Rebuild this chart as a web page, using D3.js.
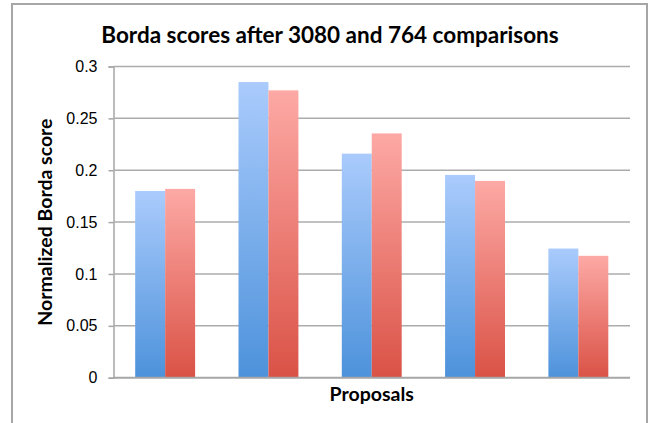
<!DOCTYPE html>
<html>
<head>
<meta charset="utf-8">
<script src="https://cdn.jsdelivr.net/npm/d3@7"></script>
<style>
  body { margin: 0; background: #fff; }
  svg { display: block; font-family: Lato, "Open Sans", sans-serif; }
  .tick text { font-size: 16px; fill: #000; }
</style>
</head>
<body>
<svg id="chart" width="649" height="423"></svg>
<script>
// DATA
const proposals = ["P1", "P2", "P3", "P4", "P5"];
const seriesNames = ["3080 comparisons", "764 comparisons"];
const scores3080 = [0.180, 0.285, 0.216, 0.1955, 0.1245];
const scores764 = [0.182, 0.277, 0.2355, 0.1897, 0.1175];
const yTicks = [0, 0.05, 0.1, 0.15, 0.2, 0.25, 0.3];

// SETUP
const plot = { left: 113.5, right: 630, top: 66.5, bottom: 377.7 };
const svg = d3.select("#chart");

// chart frame
svg.append("rect")
    .attr("x", 12).attr("y", 4)
    .attr("width", 635).attr("height", 440)
    .attr("fill", "#fff")
    .attr("stroke", "#a6a6a6")
    .attr("stroke-width", 2);

// gradients
const defs = svg.append("defs");
const grads = [
    { id: "gBlue", top: "#aacbfc", bottom: "#4d92db" },
    { id: "gRed", top: "#fda9a5", bottom: "#da5246" }
];
grads.forEach(g => {
    const lg = defs.append("linearGradient")
        .attr("id", g.id)
        .attr("x1", 0).attr("y1", 0).attr("x2", 0).attr("y2", 1);
    lg.append("stop").attr("offset", "0%").attr("stop-color", g.top);
    lg.append("stop").attr("offset", "100%").attr("stop-color", g.bottom);
});

// SCALES
const x0 = d3.scaleBand()
    .domain(proposals)
    .range([plot.left, plot.right])
    .paddingInner(0.42)
    .paddingOuter(0.21);

const x1 = d3.scaleBand()
    .domain(seriesNames)
    .range([0, x0.bandwidth()]);

const y = d3.scaleLinear()
    .domain([0, 0.3])
    .range([plot.bottom, plot.top]);

// GRIDLINES + Y AXIS
const yAxis = svg.append("g")
    .attr("transform", `translate(${plot.left},0)`)
    .call(d3.axisLeft(y).tickValues(yTicks).tickFormat(d => d3.format("")(d)).tickSize(5).tickPadding(11));
yAxis.select(".domain").attr("stroke", "#a6a6a6").attr("stroke-width", 1.5);
yAxis.selectAll(".tick line").attr("stroke", "#a6a6a6").attr("stroke-width", 1.5);

svg.append("g")
    .selectAll("line")
    .data(yTicks.filter(d => d > 0))
    .join("line")
    .attr("x1", plot.left).attr("x2", plot.right)
    .attr("y1", d => y(d)).attr("y2", d => y(d))
    .attr("stroke", "#acacac")
    .attr("stroke-width", 1.5);

// BARS
const rows = proposals.map((p, i) => ({ p, vals: [scores3080[i], scores764[i]] }));
const groups = svg.append("g")
    .selectAll("g")
    .data(rows)
    .join("g")
    .attr("transform", d => `translate(${x0(d.p)},0)`);

groups.selectAll("rect")
    .data(d => d.vals.map((v, k) => ({ s: seriesNames[k], v, k })))
    .join("rect")
    .attr("x", d => x1(d.s))
    .attr("y", d => y(d.v))
    .attr("width", x1.bandwidth())
    .attr("height", d => y(0) - y(d.v))
    .attr("fill", d => `url(#${grads[d.k].id})`);

// bottom axis line
svg.append("line")
    .attr("x1", plot.left).attr("x2", plot.right)
    .attr("y1", y(0)).attr("y2", y(0))
    .attr("stroke", "#a6a6a6")
    .attr("stroke-width", 2);

// LABELS
svg.append("text")
    .attr("x", 330).attr("y", 43)
    .attr("text-anchor", "middle")
    .attr("font-size", 22.5)
    .attr("font-weight", "bold")
    .text("Borda scores after 3080 and 764 comparisons");

svg.append("text")
    .attr("transform", `translate(52,${(plot.top + plot.bottom) / 2}) rotate(-90)`)
    .attr("text-anchor", "middle")
    .attr("font-size", 19.5)
    .attr("font-weight", "bold")
    .text("Normalized Borda score");

svg.append("text")
    .attr("x", (plot.left + plot.right) / 2).attr("y", 401)
    .attr("text-anchor", "middle")
    .attr("font-size", 19.5)
    .attr("font-weight", "bold")
    .text("Proposals");
</script>
</body>
</html>
